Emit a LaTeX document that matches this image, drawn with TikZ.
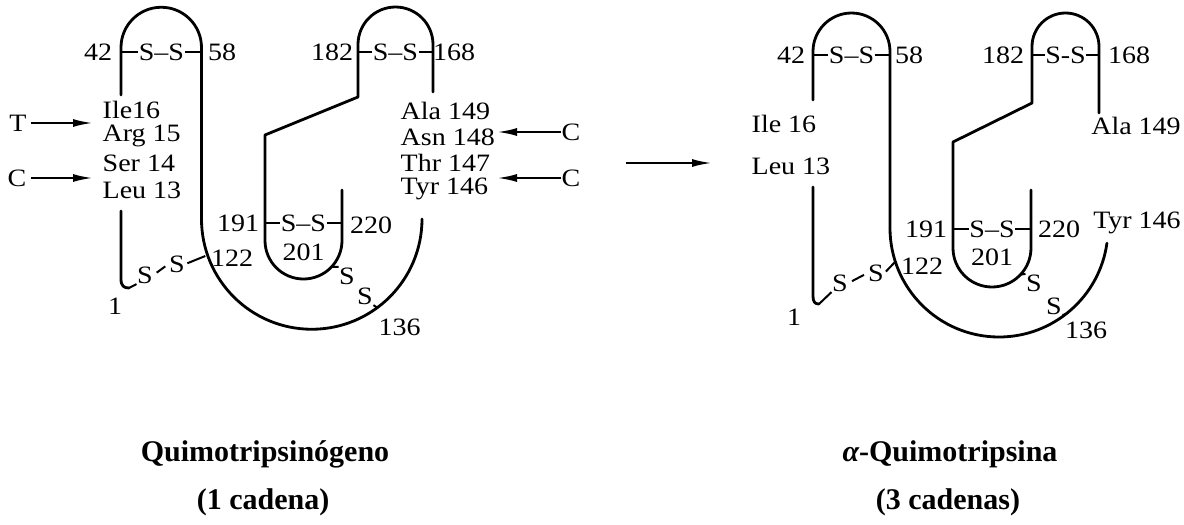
\documentclass[tikz,border=0pt]{standalone}
\usepackage{fontspec}
\setmainfont{Liberation Serif}
\newfontfamily\lblfont[FakeStretch=1.12]{Liberation Serif}
\usetikzlibrary{arrows.meta}
\begin{document}
\begin{tikzpicture}[x=1pt,y=-1pt,
  strand/.style={line width=2.8pt, line cap=round, line join=round},
  tick/.style={line width=2pt},
  lbl/.style={font=\lblfont\fontsize{25}{28}\selectfont, inner sep=0.5pt},
  arr/.style={line width=2.2pt, -{Latex[length=20pt,width=8pt]}},
  ttl/.style={font=\fontsize{30}{34}\selectfont\bfseries, inner sep=0pt}]
\useasboundingbox (0,0) rectangle (1184,525);

% ================= LEFT: Quimotripsinogeno =================
% chains
\draw[strand] (121,211) -- (121,279) .. controls (121,286) and (124,288) .. (129,288);
\draw[strand] (121,95) -- (121,47.5) arc[start angle=180,end angle=360,radius=40.25]
   -- (201.5,219) arc[start angle=180,end angle=0,radius=110.25];
\draw[strand] (433,92) -- (433,44.5) arc[start angle=360,end angle=180,radius=37.5]
   -- (358,97) -- (265,135) -- (265,240.5) arc[start angle=180,end angle=0,radius=38.5]
   -- (342,190);
% disulfide bridges
\node[lbl] (la1) at (161.5,52) {S–S};
\draw[tick] (121,52) -- (la1.west) (la1.east) -- (201.5,52);
\node[lbl] (la2) at (395.5,52) {S–S};
\draw[tick] (358,52) -- (la2.west) (la2.east) -- (433,52);
\node[lbl] (la3) at (303.5,223) {S–S};
\draw[tick] (265,223) -- (la3.west) (la3.east) -- (342,223);
\node[lbl] (lsA) at (145,275) {S};
\node[lbl] (lsB) at (177,264) {S};
\coordinate (lh) at (129,288);
\coordinate (lb1) at (205.3,256);
\draw[tick] (lh) -- (lsA.south west);
\draw[tick, shorten >=4pt, shorten <=4pt] (lsA.east) -- (lsB.west);
\draw[tick, shorten <=2pt] (lsB.east) -- (lb1);
\node[lbl] (lsC) at (347,276) {S};
\node[lbl] (lsD) at (365,296) {S};
\coordinate (li1) at (331.7,266.8);
\coordinate (lb2) at (377.2,307.7);
\draw[tick] (li1) -- (lsC.north west);
\draw[tick] (lsD.south east) -- (lb2);
% numbers
\node[lbl] at (98,52) {42};
\node[lbl] at (222,52) {58};
\node[lbl] at (332,52) {182};
\node[lbl] at (454,52) {168};
\node[lbl] at (238,223) {191};
\node[lbl] at (371,225) {220};
\node[lbl] at (303.5,252) {201};
\node[lbl] at (232,258) {122};
\node[lbl] at (115,306) {1};
\node[lbl] at (399.5,327.5) {136};
% residue labels
\node[lbl, anchor=west] (ile) at (102,110) {Ile16};
\node[lbl, anchor=west] (arg) at (102,136) {Arg 15};
\node[lbl, anchor=west] (ser) at (102,163) {Ser 14};
\node[lbl, anchor=west] (leu) at (102,190) {Leu 13};
\node[lbl, anchor=west] (ala) at (400,111) {Ala 149};
\node[lbl, anchor=west] (asn) at (400,137) {Asn 148};
\node[lbl, anchor=west] (thr) at (400,163) {Thr 147};
\node[lbl, anchor=west] (tyr) at (400,189) {Tyr 146};
% cleavage arrows
\node[lbl] (T) at (18,123) {T};
\node[lbl] (C1) at (17,178) {C};
\node[lbl] (C2) at (571,132) {C};
\node[lbl] (C3) at (571,178) {C};
\coordinate (tT) at (93,123);
\coordinate (tC1) at (93,178);
\coordinate (tC2) at (497,132);
\coordinate (tC3) at (497,178);
\draw[arr] (31,123) -- (tT);
\draw[arr] (31,178) -- (tC1);
\draw[arr] (561,132) -- (tC2);
\draw[arr] (561,178) -- (tC3);

% ================= middle arrow =================
\coordinate (m1) at (626,163);
\coordinate (m2) at (712,163);
\draw[arr] (m1) -- (m2);

% ================= RIGHT: alpha-Quimotripsina =================
\draw[strand] (813,187) -- (813,296) .. controls (813,302) and (815,304) .. (819,304);
\draw[strand] (813,100) -- (813,51.5) arc[start angle=180,end angle=360,radius=38.5]
   -- (890,228) arc[start angle=180,end angle=8,radius=109];
\draw[strand] (1099,113) -- (1099,46.5) arc[start angle=360,end angle=180,radius=33.5]
   -- (1032,103) -- (953,142) -- (953,248) arc[start angle=180,end angle=0,radius=39]
   -- (1031,190);
\node[lbl] (ra1) at (851.5,55) {S–S};
\draw[tick] (813,55) -- (ra1.west) (ra1.east) -- (890,55);
\node[lbl] (ra2) at (1065.5,55) {S-S};
\draw[tick] (1032,55) -- (ra2.west) (ra2.east) -- (1099,55);
\node[lbl] (ra3) at (992,229) {S–S};
\draw[tick] (953,229) -- (ra3.west) (ra3.east) -- (1031,229);
\node[lbl] (rsA) at (840,283) {S};
\node[lbl] (rsB) at (876,273) {S};
\coordinate (rh) at (819,304);
\coordinate (rb1) at (895,262);
\draw[tick] (rh) -- (rsA.south west);
\draw[tick, shorten >=4pt, shorten <=4pt] (rsA.east) -- (rsB.west);
\draw[tick, shorten <=2pt] (rsB.east) -- (rb1);
\node[lbl] (rsC) at (1034,283) {S};
\node[lbl] (rsD) at (1054,306) {S};
\coordinate (ri1) at (1020.5,274.6);
\coordinate (rb2) at (1066.4,313.7);
\draw[tick] (ri1) -- (rsC.north west);
\draw[tick] (rsD.south east) -- (rb2);
\node[lbl] at (791,55) {42};
\node[lbl] at (909,55) {58};
\node[lbl] at (1003,55) {182};
\node[lbl] at (1129,55) {168};
\node[lbl] at (926,229) {191};
\node[lbl] at (1059,229) {220};
\node[lbl] at (992,257) {201};
\node[lbl] at (922,266) {122};
\node[lbl] at (794,317) {1};
\node[lbl] at (1086,330) {136};
\node[lbl, anchor=west] (rile) at (751,124) {Ile 16};
\node[lbl, anchor=west] (rleu) at (751,166) {Leu 13};
\node[lbl] (rala) at (1136,126) {Ala 149};
\node[lbl] (rtyr) at (1137,223) {Tyr 146};

% ================= titles =================
\node[ttl] (t1) at (265,454) {Quimotripsinógeno};
\node[ttl] (t2) at (263,502) {(1 cadena)};
\node[ttl] (t3) at (950,454) {{\itshape α}-Quimotripsina};
\node[ttl] (t4) at (948,502) {(3 cadenas)};
\end{tikzpicture}
\end{document}
